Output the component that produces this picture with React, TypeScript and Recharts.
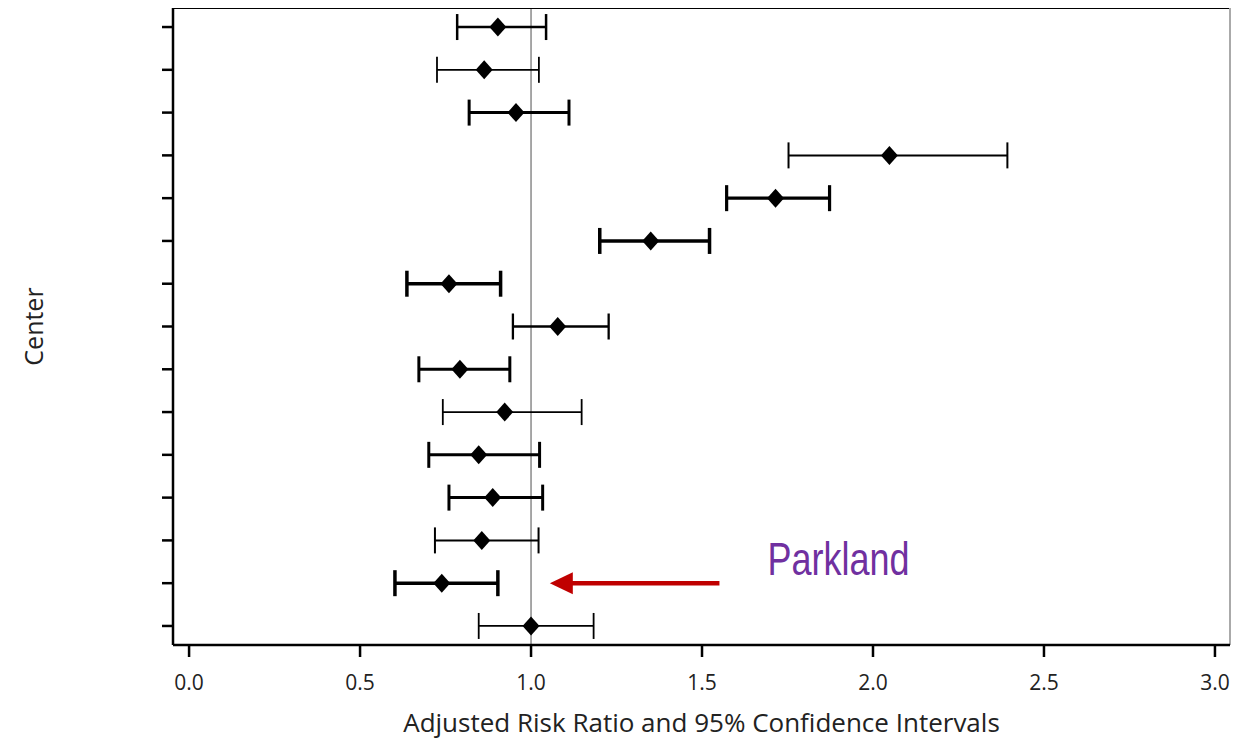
import { ComposedChart, ErrorBar, ReferenceLine, Scatter, XAxis, YAxis } from 'recharts';

// one row per center, top to bottom
const centers = [1, 2, 3, 4, 5, 6, 7, 8, 9, 10, 11, 12, 13, 14, 15];
const riskRatio = [0.903, 0.863, 0.956, 2.048, 1.715, 1.35, 0.76, 1.078, 0.792, 0.923, 0.847, 0.888, 0.856, 0.739, 1.0];
const ciLower = [0.784, 0.725, 0.819, 1.753, 1.572, 1.201, 0.637, 0.947, 0.672, 0.742, 0.701, 0.76, 0.719, 0.602, 0.847];
const ciUpper = [1.044, 1.023, 1.111, 2.393, 1.873, 1.522, 0.911, 1.227, 0.938, 1.148, 1.025, 1.034, 1.022, 0.903, 1.183];
const xTicks = [0, 0.5, 1, 1.5, 2, 2.5, 3];

const parklandRow = 14;
const arrowFrom = 1.551;
const arrowTo = 1.055;

// line weight of each interval
const barWeights = [2.5, 1.8, 3, 2, 3.2, 3.5, 3.5, 2.3, 3, 1.8, 3, 3, 2, 3.5, 1.8];

const rows = centers.map((c, i) => ({
  row: c,
  rr: riskRatio[i],
  err: [riskRatio[i] - ciLower[i], ciUpper[i] - riskRatio[i]],
}));

const Diamond = (props: any) => {
  const { cx, cy } = props;
  if (cx == null || cy == null) return null;
  return <polygon points={`${cx},${cy - 9.5} ${cx + 8.5},${cy} ${cx},${cy + 9.5} ${cx - 8.5},${cy}`} fill="#000" />;
};

const ParklandArrow = (props: any) => {
  const { x1, y1, x2, y2 } = props;
  return (
    <g>
      <line x1={x1} y1={y1} x2={x2 + 20} y2={y2} stroke="#c00000" strokeWidth={4.5} />
      <polygon points={`${x2},${y2} ${x2 + 23},${y2 - 11} ${x2 + 23},${y2 + 11}`} fill="#c00000" />
      <text
        x={x1 + 48}
        y={y1 - 8}
        fill="#7030a0"
        fontSize={46}
        fontFamily="'Liberation Sans Narrow', 'Arial Narrow', 'Liberation Sans', sans-serif"
        textLength={142}
        lengthAdjust="spacingAndGlyphs"
      >
        Parkland
      </text>
    </g>
  );
};

const font = "'Open Sans', 'Noto Sans', sans-serif";

export default function App() {
  return (
    <div style={{ margin: '-8px 0 0 -8px', width: 1239, height: 741 }}>
      <ComposedChart width={1239} height={741} margin={{ top: 8, right: 9, bottom: 0, left: 0 }}>
        <XAxis
          type="number"
          dataKey="rr"
          domain={[-0.047, 3.044]}
          allowDataOverflow
          ticks={xTicks}
          tickFormatter={(v: number) => v.toFixed(1)}
          height={96}
          tickSize={12}
          tickMargin={18}
          axisLine={{ stroke: '#000', strokeWidth: 2.5 }}
          tickLine={{ stroke: '#000', strokeWidth: 2.5 }}
          tick={{ fill: '#222', fontSize: 21, fontFamily: font }}
          label={{
            value: 'Adjusted Risk Ratio and 95% Confidence Intervals',
            position: 'insideBottom',
            offset: 9,
            fill: '#222',
            fontSize: 26,
            fontFamily: font,
          }}
        />
        <YAxis
          type="number"
          dataKey="row"
          domain={[0.555, 15.445]}
          reversed
          allowDataOverflow
          ticks={centers}
          tickFormatter={() => ''}
          width={173}
          tickSize={11}
          axisLine={{ stroke: '#000', strokeWidth: 2.5 }}
          tickLine={{ stroke: '#000', strokeWidth: 2.5 }}
          label={{
            content: (p: any) => {
              const vb = p.viewBox || { x: 0, y: 8, width: 173, height: 637 };
              const cy = vb.y + vb.height / 2;
              return (
                <text x={43} y={cy} transform={`rotate(-90 43 ${cy})`} textAnchor="middle" fill="#222" fontSize={25} fontFamily={font}>
                  Center
                </text>
              );
            },
          }}
        />
        <ReferenceLine x={1} stroke="#8a8a8a" strokeWidth={1.5} />
        <ReferenceLine y={0.555} stroke="#000" strokeWidth={2} />
        <ReferenceLine x={3.044} stroke="#aaa" strokeWidth={2} />
        {rows.map((r, i) => (
          <Scatter key={r.row} data={[r]} dataKey="rr" shape={<Diamond />} isAnimationActive={false}>
            <ErrorBar dataKey="err" direction="x" width={13} stroke="#000" strokeWidth={barWeights[i]} isAnimationActive={false} />
          </Scatter>
        ))}
        <ReferenceLine
          segment={[
            { x: arrowFrom, y: parklandRow },
            { x: arrowTo, y: parklandRow },
          ]}
          shape={<ParklandArrow />}
        />
      </ComposedChart>
    </div>
  );
}
